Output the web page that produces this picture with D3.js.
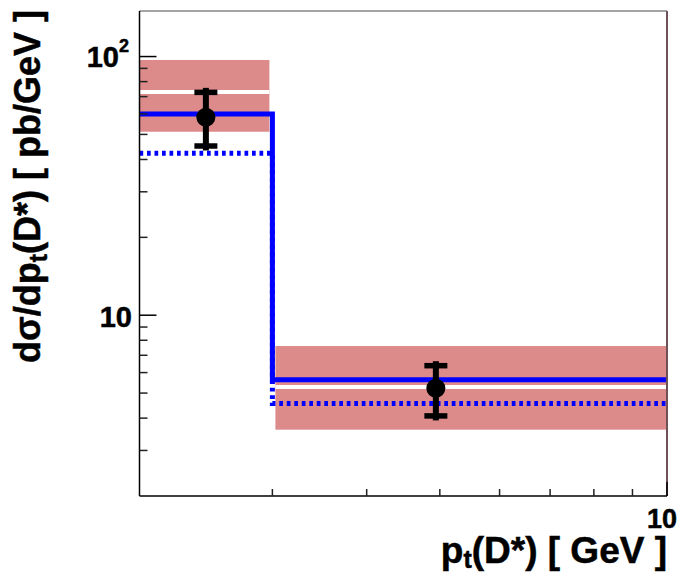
<!DOCTYPE html>
<html>
<head>
<meta charset="utf-8">
<script src="https://cdn.jsdelivr.net/npm/d3@7"></script>
<style>
  html, body { margin: 0; padding: 0; background: #fff; }
  svg text { font-family: "Liberation Sans", Arial, Helvetica, sans-serif; font-weight: bold; fill: #000; stroke: #000; stroke-width: 0.5px; }
</style>
</head>
<body>
<svg id="chart" width="688" height="574"></svg>
<script>
// Bin edges in pt(D*) [GeV]
const binEdges = [2, 3, 10];
// Theory band (upper / lower / central) per bin [pb/GeV]
const bandHigh = [97.0, 7.60];
const bandLow = [51.2, 3.61];
const bandCentral = [73.0, 5.28];
// NLO predictions per bin (solid and dotted curves)
const predSolid = [60.0, 5.63];
const predDotted = [42.3, 4.56];
// Measured cross sections
const pointX = [2.449, 4.94];
const pointY = [58.3, 5.22];
const errHigh = [72.7, 6.38];
const errLow = [45.1, 4.08];
// Axis ranges and ticks
const xDomain = [2, 10];
const yDomain = [2, 150];
const xMinorTicks = [3, 4, 5, 6, 7, 8, 9];
const xMajorTicks = [10];
const yMajorTicks = [10, 100];
const yMinorTicks = [3, 4, 5, 6, 7, 8, 9, 20, 30, 40, 50, 60, 70, 80, 90];

const svg = d3.select("#chart");
const frameL = 139.5, frameR = 667, frameT = 11, frameB = 496;

const x = d3.scaleLog().domain(xDomain).range([frameL, frameR]);
const y = d3.scaleLog().domain(yDomain).range([frameB, frameT]);

const bins = d3.range(binEdges.length - 1).map(i => ({
  lo: binEdges[i], hi: binEdges[i + 1],
  bHi: bandHigh[i], bLo: bandLow[i], bC: bandCentral[i]
}));

// theory bands, with a small gap at inner bin boundaries
const gap = 3;
const bx0 = d => x(d.lo) + (d.lo === xDomain[0] ? 0 : gap);
const bx1 = d => x(d.hi) - (d.hi === xDomain[1] ? 0 : gap);

svg.append("g").selectAll("rect").data(bins).join("rect")
  .attr("x", bx0)
  .attr("width", d => bx1(d) - bx0(d))
  .attr("y", d => y(d.bHi))
  .attr("height", d => y(d.bLo) - y(d.bHi))
  .attr("fill", "#dc8a8a");

svg.append("g").selectAll("line").data(bins).join("line")
  .attr("x1", bx0).attr("x2", bx1)
  .attr("y1", d => y(d.bC)).attr("y2", d => y(d.bC))
  .attr("stroke", "#fff").attr("stroke-width", 4);

// step curves
const stepData = vals => {
  const pts = vals.map((v, i) => [binEdges[i], v]);
  pts.push([binEdges[binEdges.length - 1], vals[vals.length - 1]]);
  return pts;
};
const step = d3.line().x(d => x(d[0])).y(d => y(d[1])).curve(d3.curveStepAfter);

svg.append("path").datum(stepData(predDotted))
  .attr("d", step).attr("fill", "none")
  .attr("stroke", "#0000ff").attr("stroke-width", 5)
  .attr("stroke-dasharray", "3.7,3.8");

svg.append("path").datum(stepData(predSolid))
  .attr("d", step).attr("fill", "none")
  .attr("stroke", "#0000ff").attr("stroke-width", 5);

// data points with error bars
const pts = pointX.map((px, i) => ({ x: px, y: pointY[i], hi: errHigh[i], lo: errLow[i] }));
const gp = svg.append("g");
const capW = 23, over = 4.5;
gp.selectAll("line.v").data(pts).join("line").attr("class", "v")
  .attr("x1", d => x(d.x)).attr("x2", d => x(d.x))
  .attr("y1", d => y(d.hi) - over).attr("y2", d => y(d.lo) + over)
  .attr("stroke", "#000").attr("stroke-width", 6);
gp.selectAll("line.ct").data(pts).join("line").attr("class", "ct")
  .attr("x1", d => x(d.x) - capW / 2).attr("x2", d => x(d.x) + capW / 2)
  .attr("y1", d => y(d.hi)).attr("y2", d => y(d.hi))
  .attr("stroke", "#000").attr("stroke-width", 5.5);
gp.selectAll("line.cb").data(pts).join("line").attr("class", "cb")
  .attr("x1", d => x(d.x) - capW / 2).attr("x2", d => x(d.x) + capW / 2)
  .attr("y1", d => y(d.lo)).attr("y2", d => y(d.lo))
  .attr("stroke", "#000").attr("stroke-width", 5.5);
gp.selectAll("circle").data(pts).join("circle")
  .attr("cx", d => x(d.x)).attr("cy", d => y(d.y)).attr("r", 9.5)
  .attr("fill", "#000");

// frame
svg.append("line").attr("x1", frameL).attr("x2", frameR).attr("y1", frameT).attr("y2", frameT)
  .attr("stroke", "#858585").attr("stroke-width", 1.5);
svg.append("line").attr("x1", frameR).attr("x2", frameR).attr("y1", frameT).attr("y2", frameB)
  .attr("stroke", "#6e5258").attr("stroke-width", 2);
svg.append("line").attr("x1", frameL).attr("x2", frameL).attr("y1", frameT).attr("y2", frameB)
  .attr("stroke", "#000").attr("stroke-width", 1.5);
svg.append("line").attr("x1", frameL).attr("x2", frameR).attr("y1", frameB).attr("y2", frameB)
  .attr("stroke", "#000").attr("stroke-width", 1.5);

// y ticks
const gy = svg.append("g");
gy.selectAll("line.maj").data(yMajorTicks).join("line").attr("class", "maj")
  .attr("x1", frameL).attr("x2", frameL + 17)
  .attr("y1", d => y(d)).attr("y2", d => y(d))
  .attr("stroke", "#000").attr("stroke-width", 1.5);
gy.selectAll("line.min").data(yMinorTicks).join("line").attr("class", "min")
  .attr("x1", frameL).attr("x2", frameL + 8)
  .attr("y1", d => y(d)).attr("y2", d => y(d))
  .attr("stroke", "#222").attr("stroke-width", 1.5);

// x ticks
const gx = svg.append("g");
gx.selectAll("line.min").data(xMinorTicks).join("line").attr("class", "min")
  .attr("x1", d => x(d)).attr("x2", d => x(d))
  .attr("y1", frameB).attr("y2", frameB - 7)
  .attr("stroke", "#222").attr("stroke-width", 1.5);
gx.selectAll("line.maj").data(xMajorTicks).join("line").attr("class", "maj")
  .attr("x1", d => x(d)).attr("x2", d => x(d))
  .attr("y1", frameB).attr("y2", frameB - 14)
  .attr("stroke", "#000").attr("stroke-width", 1.5);

// y tick labels
svg.append("text").attr("x", 119).attr("y", y(100) + 10)
  .attr("text-anchor", "end").attr("font-size", 29).text("10");
svg.append("text").attr("x", 119).attr("y", y(100) - 5)
  .attr("font-size", 18).text("2");
svg.append("text").attr("x", 132).attr("y", y(10) + 12)
  .attr("text-anchor", "end").attr("font-size", 29).text("10");

// x tick label
svg.append("text").attr("x", x(10) - 5).attr("y", 528)
  .attr("text-anchor", "middle").attr("font-size", 27).text("10");

// axis titles
const xt = svg.append("text").attr("x", frameR).attr("y", 563)
  .attr("text-anchor", "end").attr("font-size", 37);
xt.append("tspan").text("p");
xt.append("tspan").attr("font-size", 25).attr("dy", 5).text("t");
xt.append("tspan").attr("dy", -5).text("(D*) [ GeV ]");

const yt = svg.append("text")
  .attr("transform", `translate(40,${frameT - 1}) rotate(-90)`)
  .attr("text-anchor", "end").attr("font-size", 36);
yt.append("tspan").text("dσ/dp");
yt.append("tspan").attr("font-size", 25).attr("dy", 7).text("t");
yt.append("tspan").attr("dy", -7).text("(D*) [ pb/GeV ]");
</script>
</body>
</html>
